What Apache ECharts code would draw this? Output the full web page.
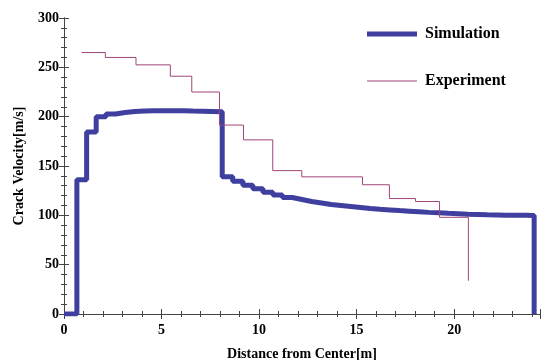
<!DOCTYPE html>
<html>
<head>
<meta charset="utf-8">
<script src="https://cdn.jsdelivr.net/npm/echarts@6/dist/echarts.min.js"></script>
<style>
  html, body {margin: 0; padding: 0; background: #fff;}
  #chart {width: 542px; height: 360px;}
</style>
</head>
<body>
<div id="chart"></div>
<script>
// simulation: step start positions [m] and velocity [m/s]
const simX = [0, 0.66, 1.16, 1.65, 2.15, 2.64, 3.14, 3.64, 4.13, 4.63, 5.12, 5.62, 6.12, 6.61, 7.11, 7.6,
  8.11, 8.65, 9.17, 9.68, 10.2, 10.71, 11.2, 11.7, 12.2, 12.7, 13.2, 13.7, 14.2, 14.7, 15.2, 15.7,
  16.2, 16.7, 17.2, 17.7, 18.2, 18.7, 19.2, 19.7, 20.2, 20.7, 21.2, 21.7, 22.2, 22.7, 23.2, 23.65, 24.1, 24.1];
const simV = [0, 136, 184.5, 200, 202.8, 204.3, 205.2, 205.7, 206, 206.1, 206.1, 206, 205.8, 205.6, 205.3, 205,
  139, 134.5, 130.5, 127, 123.5, 120.5, 118, 116, 114, 112.5, 111, 110, 109, 108, 107, 106.2,
  105.5, 104.8, 104.2, 103.6, 103, 102.5, 102, 101.6, 101.2, 100.9, 100.6, 100.4, 100.2, 100.1, 100, 99.9, 99.9, 0];

// experiment
const expX = [0.9, 2.12, 3.69, 5.45, 6.55, 7.97, 9.2, 10.7, 12.19, 15.3, 16.68, 18.02, 19.25, 20.73, 20.73];
const expV = [265, 260, 252.5, 241, 225, 191.5, 176.5, 145.3, 139, 131, 117, 114, 98, 98, 33.7];

const seriesNames = ['Simulation', 'Experiment'];

const font = 'Liberation Serif';
const frameColor = '#444';
const simColor = '#3f3f9f';
const expColor = '#a0457a';

const chart = echarts.init(document.getElementById('chart'));

const frameAxis = (extra) => Object.assign({
  type: 'value',
  axisLine: {show: true, lineStyle: {color: frameColor, width: 1}},
  axisTick: {show: true, inside: true, length: 5, lineStyle: {color: frameColor}},
  minorTick: {show: true, splitNumber: 5, length: 3, lineStyle: {color: frameColor}},
  splitLine: {show: false},
  minorSplitLine: {show: false},
  axisLabel: {show: false}
}, extra);

const legendText = {fontFamily: font, fontSize: 16, fontWeight: 'bold', color: '#000', padding: [0, 0, 0, 3]};

chart.setOption({
  animation: false,
  grid: {left: 64, right: 2, top: 18, bottom: 46, outerBoundsMode: 'none'},
  legend: [
    {
      left: 362, top: 21, padding: 5,
      itemWidth: 50, itemHeight: 5, icon: 'rect',
      data: [seriesNames[0]],
      textStyle: legendText
    },
    {
      left: 362, top: 68, padding: 5,
      itemWidth: 50, itemHeight: 1, icon: 'rect',
      data: [seriesNames[1]],
      textStyle: legendText
    }
  ],
  xAxis: [
    frameAxis({
      position: 'bottom', min: 0, max: 24.4, interval: 5,
      name: 'Distance from Center[m]', nameLocation: 'middle', nameGap: 33,
      nameTextStyle: {fontFamily: font, fontSize: 14, fontWeight: 'bold', color: '#000'},
      axisLabel: {show: true, showMaxLabel: false, margin: 9, fontFamily: font, fontSize: 14, fontWeight: 'bold', color: '#000'}
    }),
    frameAxis({position: 'top', min: 0, max: 24.4, interval: 5})
  ],
  yAxis: [
    frameAxis({
      position: 'left', min: 0, max: 300, interval: 50,
      name: 'Crack Velocity[m/s]', nameLocation: 'middle', nameGap: 38,
      nameTextStyle: {fontFamily: font, fontSize: 14, fontWeight: 'bold', color: '#000'},
      axisLabel: {show: true, margin: 5, fontFamily: font, fontSize: 14, fontWeight: 'bold', color: '#000'}
    }),
    frameAxis({position: 'right', min: 0, max: 300, interval: 50})
  ],
  series: [
    {
      name: seriesNames[0],
      type: 'line',
      step: 'end',
      symbol: 'none',
      xAxisIndex: 0,
      yAxisIndex: 0,
      lineStyle: {color: simColor, width: 5},
      itemStyle: {color: simColor},
      data: simX.map((x, i) => [x, simV[i]])
    },
    {
      name: seriesNames[1],
      type: 'line',
      step: 'end',
      symbol: 'none',
      xAxisIndex: 0,
      yAxisIndex: 0,
      lineStyle: {color: expColor, width: 1},
      itemStyle: {color: expColor},
      data: expX.map((x, i) => [x, expV[i]])
    }
  ]
});
</script>
</body>
</html>
